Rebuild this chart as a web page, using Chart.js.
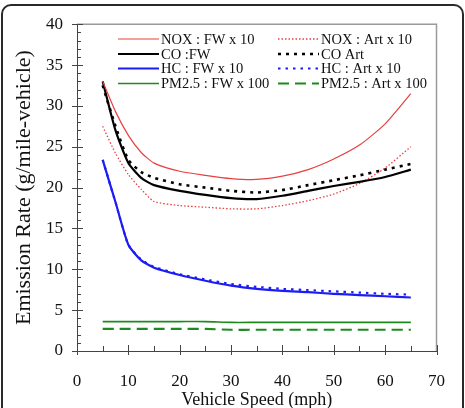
<!DOCTYPE html>
<html>
<head>
<meta charset="utf-8">
<script src="https://cdn.jsdelivr.net/npm/chart.js@4"></script>
<style>
  html, body { margin: 0; padding: 0; background: #fff; overflow: hidden; }
  #wrap { position: relative; width: 465px; height: 408px; }
  #frame {
    position: absolute; left: 1px; top: 4px; width: 459px; height: 420px;
    border: 2px solid #2a2a2a; border-radius: 10px;
  }
  #chart { position: absolute; left: 0; top: 0; }
</style>
</head>
<body>
<div id="wrap">
  <div id="frame"></div>
  <canvas id="chart" width="465" height="408"></canvas>
</div>
<script>
// speeds (mph)
const speeds = [5, 7.5, 10, 12.5, 15, 20, 25, 30, 35, 40, 45, 50, 55, 60, 65];

// emission rates
const noxFW  = [33.0, 29.3, 26.4, 24.3, 23.0, 22.0, 21.5, 21.1, 21.0, 21.4, 22.2, 23.5, 25.2, 27.8, 31.5];
const noxArt = [27.5, 24.2, 21.6, 19.8, 18.3, 17.8, 17.6, 17.4, 17.4, 17.8, 18.4, 19.2, 20.5, 22.4, 25.0];
const coFW   = [33.0, 27.0, 23.0, 21.2, 20.3, 19.6, 19.1, 18.7, 18.6, 19.0, 19.6, 20.2, 20.7, 21.3, 22.2];
const coArt  = [32.5, 27.5, 23.4, 21.9, 21.2, 20.4, 20.0, 19.6, 19.4, 19.7, 20.3, 20.9, 21.5, 22.2, 22.9];
const hcFW   = [23.4, 18.2, 13.0, 11.1, 10.2, 9.3, 8.6, 8.0, 7.6, 7.35, 7.2, 7.0, 6.85, 6.7, 6.55];
const hcArt  = [23.4, 18.2, 13.0, 11.2, 10.3, 9.4, 8.75, 8.2, 7.85, 7.6, 7.45, 7.3, 7.15, 7.0, 6.9];
const pmFW   = [3.6, 3.6, 3.6, 3.6, 3.6, 3.6, 3.6, 3.5, 3.5, 3.5, 3.5, 3.5, 3.5, 3.5, 3.5];
const pmArt  = [2.7, 2.7, 2.7, 2.7, 2.7, 2.7, 2.7, 2.6, 2.6, 2.6, 2.6, 2.6, 2.6, 2.6, 2.6];

const xTicks = [0, 10, 20, 30, 40, 50, 60, 70];
const yTicks = [0, 5, 10, 15, 20, 25, 30, 35, 40];

const RED = '#e8403f', BLUE = '#1c1cf5', GREEN = '#1c8a1c';
const SERIF = '"Liberation Serif", "Times New Roman", serif';

function pts(values) {
    return speeds.map((s, i) => ({ x: s, y: values[i] }));
}

function series(label, values, color, width, dash) {
    return {
        label: label,
        data: pts(values),
        borderColor: color,
        backgroundColor: color,
        borderWidth: width,
        borderDash: dash,
        pointRadius: 0,
        tension: 0.2,
        fill: false
    };
}

// legend order: first column is FW, second column is Art
const datasets = [
    series('NOX : FW x 10', noxFW, RED, 1.2, []),
    series('CO :FW', coFW, '#000', 2.2, []),
    series('HC : FW x 10', hcFW, BLUE, 2.2, []),
    series('PM2.5 : FW x 100', pmFW, GREEN, 1.6, []),
    series('NOX : Art x 10', noxArt, RED, 1.3, [1.5, 2]),
    series('CO Art', coArt, '#000', 2.6, [3, 5]),
    series('HC : Art x 10', hcArt, BLUE, 2.2, [2.5, 5]),
    series('PM2.5 : Art x 100', pmArt, GREEN, 2.2, [11, 6])
];

// top/right frame, inward tick marks
const framePlugin = {
    id: 'framePlugin',
    afterDraw(chart) {
        const ctx = chart.ctx;
        const a = chart.chartArea;
        const xs = chart.scales.x, ys = chart.scales.y;
        ctx.save();
        ctx.strokeStyle = '#9a9a9a';
        ctx.lineWidth = 1.5;
        ctx.beginPath();
        ctx.moveTo(a.left, a.top);
        ctx.lineTo(a.right, a.top);
        ctx.lineTo(a.right, a.bottom);
        ctx.stroke();

        ctx.strokeStyle = '#444';
        ctx.lineWidth = 1;
        ctx.beginPath();
        for (let v = 0; v <= 40; v++) {
            const p = Math.round(ys.getPixelForValue(v)) + 0.5;
            if (v % 5 === 0) {
                ctx.moveTo(a.left - 5, p);
                ctx.lineTo(a.left + 6, p);
            } else {
                ctx.moveTo(a.left, p);
                ctx.lineTo(a.left + 4, p);
            }
        }
        for (let v = 0; v <= 70; v += 5) {
            const p = Math.round(xs.getPixelForValue(v)) + 0.5;
            if (v % 10 === 0) {
                ctx.moveTo(p, a.bottom + 4);
                ctx.lineTo(p, a.bottom - 6);
            } else {
                ctx.moveTo(p, a.bottom);
                ctx.lineTo(p, a.bottom - 5);
            }
        }
        ctx.stroke();
        ctx.restore();
    }
};

// two-column legend inside the plot
const legendPlugin = {
    id: 'legendPlugin',
    afterDraw(chart) {
        const ctx = chart.ctx;
        const colX = [118, 278];
        const rowY = [39, 54, 68.5, 83.5];
        ctx.save();
        ctx.font = '14.5px ' + SERIF;
        ctx.textBaseline = 'middle';
        ctx.fillStyle = '#111';
        chart.data.datasets.forEach((ds, i) => {
            const x = colX[Math.floor(i / 4)];
            const y = rowY[i % 4];
            ctx.strokeStyle = ds.borderColor;
            ctx.lineWidth = ds.borderWidth;
            ctx.setLineDash(ds.borderDash);
            ctx.beginPath();
            ctx.moveTo(x, y);
            ctx.lineTo(x + 41, y);
            ctx.stroke();
            ctx.setLineDash([]);
            ctx.fillText(ds.label, x + 43, y + 1);
        });
        ctx.restore();
    }
};

new Chart(document.getElementById('chart').getContext('2d'), {
    type: 'line',
    data: { datasets: datasets },
    plugins: [framePlugin, legendPlugin],
    options: {
        responsive: false,
        animation: false,
        layout: { padding: { top: 24, right: 24, left: 0, bottom: 0 } },
        plugins: { legend: { display: false }, tooltip: { enabled: false } },
        scales: {
            x: {
                type: 'linear',
                min: 0,
                max: 70,
                afterBuildTicks: s => { s.ticks = xTicks.map(v => ({ value: v })); },
                afterFit: s => { s.height = 57; },
                grid: { display: false, drawTicks: false },
                border: { display: true, color: '#444', width: 1 },
                ticks: { color: '#111', padding: 20, font: { family: SERIF, size: 17 } },
                title: {
                    display: true,
                    text: 'Vehicle Speed (mph)',
                    color: '#111',
                    font: { family: SERIF, size: 18, lineHeight: 1.0 },
                    padding: { top: 0, bottom: -1 }
                }
            },
            y: {
                min: 0,
                max: 40,
                afterBuildTicks: s => { s.ticks = yTicks.map(v => ({ value: v })); },
                afterFit: s => { s.width = 77; },
                grid: { display: false, drawTicks: false },
                border: { display: true, color: '#444', width: 1 },
                ticks: { color: '#111', padding: 14, font: { family: SERIF, size: 17 } },
                title: {
                    display: true,
                    text: 'Emission Rate (g/mile-vehicle)',
                    color: '#111',
                    font: { family: SERIF, size: 22, lineHeight: 1.2 },
                    padding: { top: 11, bottom: 0 }
                }
            }
        }
    }
});
</script>
</body>
</html>
